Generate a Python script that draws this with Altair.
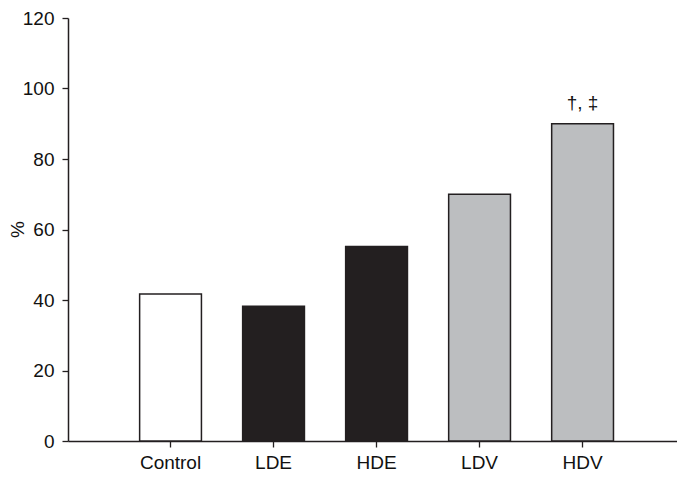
import altair as alt
import pandas as pd

groups = ["Control", "LDE", "HDE", "LDV", "HDV"]
values = [41.7, 38.2, 55.2, 70.0, 90.0]
fills = ["#ffffff", "#231f20", "#231f20", "#bcbec0", "#bcbec0"]
marks = ["", "", "", "", "†, ‡"]
y_ticks = [0, 20, 40, 60, 80, 100, 120]

df = pd.DataFrame({"group": groups, "value": values, "fill": fills, "mark": marks})

FONT = "Liberation Sans"
AX = "#231f20"

x_enc = alt.X(
    "group:N",
    sort=groups,
    scale=alt.Scale(paddingInner=0.4, paddingOuter=0.656, align=0.53),
    axis=alt.Axis(
        title=None, labelAngle=0, labelFont=FONT, labelFontSize=19, labelColor="#111111",
        labelPadding=6, tickSize=6, tickColor=AX, tickWidth=1.3, domainColor=AX, domainWidth=1.5,
        grid=False,
    ),
)

y_enc = alt.Y(
    "value:Q",
    scale=alt.Scale(domain=[0, 120], nice=False),
    axis=alt.Axis(
        title="%", values=y_ticks, labelFont=FONT, labelFontSize=19, labelColor="#111111",
        labelPadding=8, tickSize=6, tickColor=AX, tickWidth=1.3, domainColor=AX, domainWidth=1.5,
        grid=False, titleFont=FONT, titleFontSize=19, titleFontWeight="normal", titleColor="#111111",
        titleX=-51, titleY=211, titleAngle=-90, titleBaseline="middle", titleAlign="center",
    ),
)

bars = alt.Chart(df).mark_bar(stroke=AX, strokeWidth=1.5).encode(
    x=x_enc,
    y=y_enc,
    fill=alt.Fill("fill:N", scale=None),
)

labels = alt.Chart(df).mark_text(
    font=FONT, fontSize=19, color="#111111", baseline="alphabetic", dy=-15
).encode(
    x=alt.X("group:N", sort=groups),
    y=alt.Y("value:Q"),
    text="mark:N",
)

chart = (
    alt.layer(bars, labels)
    .properties(
        width=609, height=423,
        autosize=alt.AutoSizeParams(type="none"),
        padding={"left": 60, "top": 10, "right": 0, "bottom": 35},
    )
    .configure_view(stroke=None)
)

chart.save("out.html", embed_options={"renderer": "svg", "actions": False})
